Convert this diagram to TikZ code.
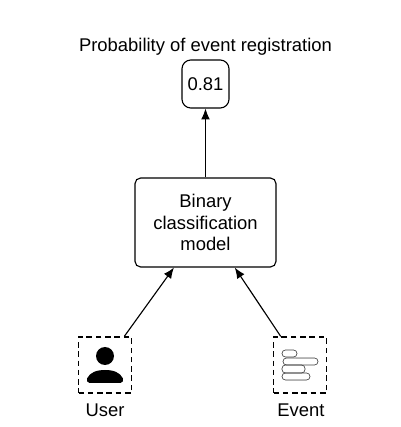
\documentclass[tikz,border=0pt]{standalone}
\usepackage{fontspec}
\setmainfont{Liberation Sans}
\usetikzlibrary{arrows.meta}
\tikzset{
  every node/.style={font=\fontsize{13.1}{15.4}\selectfont},
  modelbox/.style={draw,line width=0.8pt,rounded corners=0.14cm,minimum width=3.525cm,minimum height=2.225cm,align=center,inner sep=0pt},
  scorebox/.style={draw,line width=0.8pt,rounded corners=0.22cm,minimum width=1.175cm,minimum height=1.2cm,inner sep=0pt},
  inputbox/.style={draw,line width=0.8pt,dash pattern=on 4pt off 2.6pt,minimum width=1.325cm,minimum height=1.4cm,inner sep=0pt},
  conn/.style={line width=0.8pt,-{Latex[length=0.27cm,width=0.22cm]}},
  pill/.style={line width=0.45pt,draw=black!75,rounded corners=0.085cm}
}
\begin{document}
\begin{tikzpicture}
\useasboundingbox (0,0) rectangle (10.025,10.675);
\node at (5.1375,9.51) (title) {Probability of event registration};
\node[scorebox] at (5.1375,8.575) (score) {\raisebox{-0.6pt}{0.81}};
\node[modelbox] at (5.1375,5.1125) (model) {\raisebox{-1pt}{Binary}\\\raisebox{-1pt}{classification}\\\raisebox{-1pt}{model}};
\node[inputbox] at (2.625,1.55) (user) {};
\node[inputbox] at (7.5,1.55) (event) {};
\node at (2.625,0.425) (userlabel) {User};
\node at (7.525,0.425) (eventlabel) {Event};
\draw[conn] (model) -- (score);
\draw[conn] (user.56) -- (model.235.6);
\draw[conn] (event.124) -- (model.303.5);
% user icon
\fill (2.625,1.775) circle (0.225);
\fill (2.24,1.1) -- (3.01,1.1) .. controls (3.08,1.1) and (3.09,1.17) .. (3.07,1.22) .. controls (3.0,1.36) and (2.85,1.425) .. (2.625,1.425) .. controls (2.4,1.425) and (2.25,1.36) .. (2.18,1.22) .. controls (2.16,1.17) and (2.17,1.1) .. (2.24,1.1) -- cycle;
% event icon
\draw[pill] (7.05,1.75) rectangle (7.425,1.925);
\draw[pill] (7.075,1.55) rectangle (7.95,1.725);
\draw[pill] (7.05,1.35) rectangle (7.625,1.55);
\draw[pill] (7.05,1.175) rectangle (7.75,1.35);
\draw[black!30,line width=0.6pt] (7.4,1.725) -- (7.85,1.725);
\draw[black!30,line width=0.6pt] (7.15,1.175) -- (7.65,1.175);
\end{tikzpicture}
\end{document}
